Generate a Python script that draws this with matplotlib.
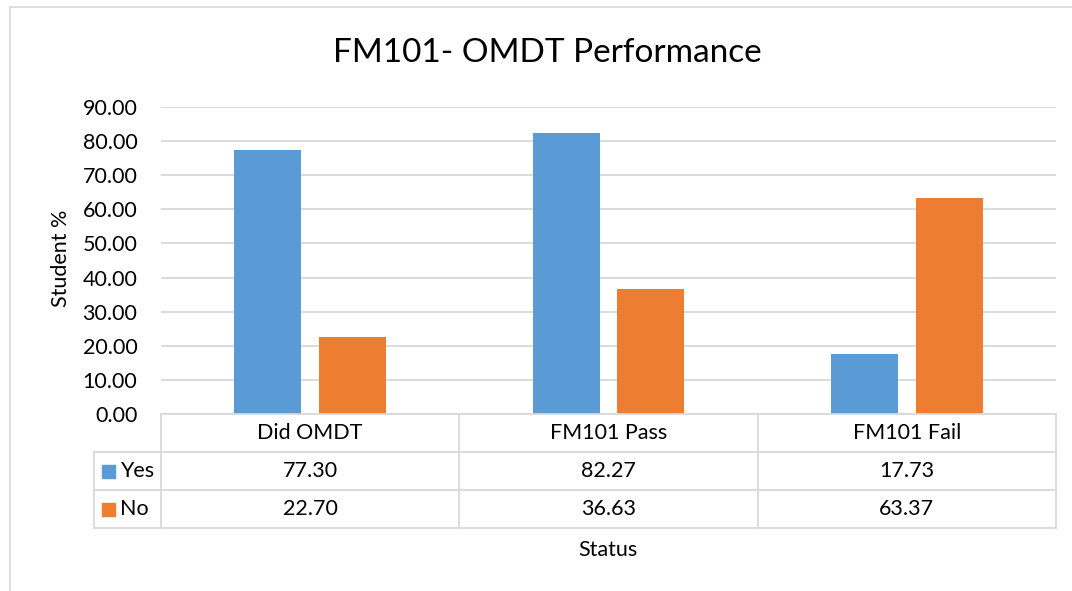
import matplotlib.pyplot as plt
from matplotlib.patches import Rectangle

plt.rcParams['font.family'] = ['Lato', 'DejaVu Sans']

categories = ["Did OMDT", "FM101 Pass", "FM101 Fail"]
series_names = ["Yes", "No"]
yes_values = [77.30, 82.27, 17.73]
no_values = [22.70, 36.63, 63.37]
y_ticks = [0, 10, 20, 30, 40, 50, 60, 70, 80, 90]

BLUE = "#5B9BD5"
ORANGE = "#ED7D31"
GRID = "#D9D9D9"
TXT = "#000000"
FS = 15.5

W, H = 1072, 591
fig = plt.figure(figsize=(W / 100, H / 100), dpi=100)

# outer chart border (Excel style, cut at the right/bottom)
fig.patches.append(Rectangle((10 / W, -0.1), 1.2, 1 - 7 / H + 0.1,
                             transform=fig.transFigure, fill=False,
                             edgecolor=GRID, linewidth=1.2))

left, right, top, bottom = 161, 1056, 107, 414
ax = fig.add_axes([left / W, 1 - bottom / H, (right - left) / W, (bottom - top) / H])

x = range(len(categories))
off, bw = 0.142, 0.225
ax.bar([i - off for i in x], yes_values, width=bw, color=BLUE, zorder=3)
ax.bar([i + off for i in x], no_values, width=bw, color=ORANGE, zorder=3)

ax.set_xlim(-0.5, len(categories) - 0.5)
ax.set_ylim(0, 90)
ax.set_yticks(y_ticks)
ax.set_yticklabels([f"{v:.2f}" for v in y_ticks], fontsize=FS, color=TXT)
ax.tick_params(axis='y', length=0, pad=17)
ax.set_xticks([])
for s in ax.spines.values():
    s.set_visible(False)
ax.grid(axis='y', color=GRID, linewidth=1.3, zorder=0)

fig.text(547 / W, 1 - 53 / H, "FM101- OMDT Performance", fontsize=24,
         ha='center', va='center', color=TXT)
fig.text(61 / W, 1 - 258 / H, "Student %", rotation=90, fontsize=FS,
         ha='center', va='center', color=TXT)
fig.text(608 / W, 1 - 550 / H, "Status", fontsize=FS, ha='center', va='center', color=TXT)

# data table below the axis, in figure pixel coords
def fx(px):
    return px / W

def fy(py):
    return 1 - py / H

row_h = 38
col_edges = [left + (right - left) * k / len(categories) for k in range(len(categories) + 1)]
label_left = 94
rows_y = [bottom + row_h * k for k in range(4)]  # 414, 452, 490, 528

lw = 1.3
# horizontal lines
fig.add_artist(plt.Line2D([fx(left), fx(right)], [fy(rows_y[0])] * 2, color=GRID, lw=lw))
for yy in rows_y[1:]:
    fig.add_artist(plt.Line2D([fx(label_left), fx(right)], [fy(yy)] * 2, color=GRID, lw=lw))
# vertical lines
for xx in col_edges:
    fig.add_artist(plt.Line2D([fx(xx)] * 2, [fy(rows_y[0]), fy(rows_y[3])], color=GRID, lw=lw))
fig.add_artist(plt.Line2D([fx(label_left)] * 2, [fy(rows_y[1]), fy(rows_y[3])], color=GRID, lw=lw))

# header
for k, cat in enumerate(categories):
    cx = (col_edges[k] + col_edges[k + 1]) / 2
    fig.text(fx(cx), fy(rows_y[0] + row_h / 2), cat, fontsize=FS,
             ha='center', va='center', color=TXT)

# rows
for r, (name, vals, col) in enumerate(zip(series_names, [yes_values, no_values], [BLUE, ORANGE])):
    cy = rows_y[r + 1] + row_h / 2
    fig.patches.append(Rectangle((fx(102), fy(cy + 7)), 13 / W, 13 / H,
                                 transform=fig.transFigure, color=col))
    fig.text(fx(120), fy(cy), name, fontsize=FS, ha='left', va='center', color=TXT)
    for k, v in enumerate(vals):
        cx = (col_edges[k] + col_edges[k + 1]) / 2
        fig.text(fx(cx), fy(cy), f"{v:.2f}", fontsize=FS, ha='center', va='center', color=TXT)

fig.savefig("out.png", dpi=100, facecolor="white")
